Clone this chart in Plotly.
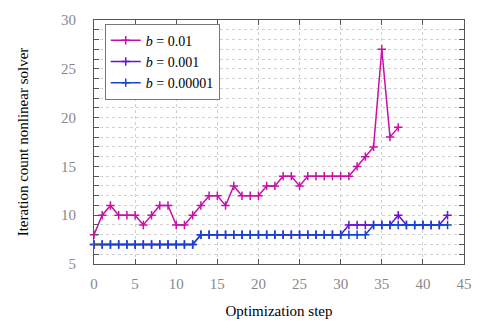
import plotly.graph_objects as go

# Iteration counts of the nonlinear solver per optimization step
steps_b1 = list(range(0, 38))
iters_b1 = [8, 10, 11, 10, 10, 10, 9, 10, 11, 11, 9, 9, 10, 11, 12, 12, 11, 13, 12, 12,
            12, 13, 13, 14, 14, 13, 14, 14, 14, 14, 14, 14, 15, 16, 17, 27, 18, 19]

steps_b2 = list(range(0, 44))
iters_b2 = [7] * 13 + [8] * 18 + [9] * 6 + [10] + [9] * 5 + [10]

steps_b3 = list(range(0, 44))
iters_b3 = [7] * 13 + [8] * 21 + [9] * 10

labels = ["<i>b</i> = 0.01", "<i>b</i> = 0.001", "<i>b</i> = 0.00001"]
colors = ["#C810A8", "#6A10D8", "#1545D0"]

x_ticks = list(range(0, 46, 5))
y_ticks = list(range(5, 31, 5))

fig = go.Figure()
for xs, ys, name, c in [(steps_b1, iters_b1, labels[0], colors[0]),
                        (steps_b2, iters_b2, labels[1], colors[1]),
                        (steps_b3, iters_b3, labels[2], colors[2])]:
    fig.add_trace(go.Scatter(
        x=xs, y=ys, name=name, mode="lines+markers", cliponaxis=False,
        line=dict(color=c, width=1.5),
        marker=dict(symbol="cross-thin", size=6, line=dict(color=c, width=1.5)),
    ))

font_serif = "Liberation Serif"
grid_col = "#d0d0d0"
fig.update_layout(
    width=484, height=329,
    margin=dict(l=94, r=13, t=15, b=60),
    paper_bgcolor="white", plot_bgcolor="white",
    font=dict(family=font_serif, size=15, color="black"),
    showlegend=True,
    legend=dict(x=0.029, y=0.985, xanchor="left", yanchor="top",
                bgcolor="white", bordercolor="#777", borderwidth=1,
                font=dict(size=14, family=font_serif), tracegroupgap=0,
                itemwidth=30),
    xaxis=dict(
        range=[0, 45], tickvals=x_ticks, ticks="inside", ticklen=5,
        tickcolor="#555", mirror="allticks", showline=True, linecolor="#555",
        linewidth=1, showgrid=True, gridcolor=grid_col, griddash="dot",
        gridwidth=1, zeroline=False, ticklabelstandoff=6,
        tickfont=dict(color="#888", size=15, family=font_serif),
        title=dict(text="Optimization step", font=dict(size=15), standoff=14),
    ),
    yaxis=dict(
        range=[5, 30], tickvals=y_ticks, ticks="inside", ticklen=5,
        tickcolor="#555", mirror="allticks", showline=True, linecolor="#555",
        linewidth=1, showgrid=True, gridcolor=grid_col, griddash="dot",
        gridwidth=1, zeroline=False, ticklabelstandoff=14,
        minor=dict(dtick=1, ticks="inside", ticklen=5, tickcolor="#555",
                   showgrid=True, gridcolor=grid_col, griddash="dot", gridwidth=1),
        tickfont=dict(color="#888", size=15, family=font_serif),
        title=dict(text="Iteration count nonlinear solver", font=dict(size=15), standoff=28),
    ),
)

fig.write_html("out.html")
